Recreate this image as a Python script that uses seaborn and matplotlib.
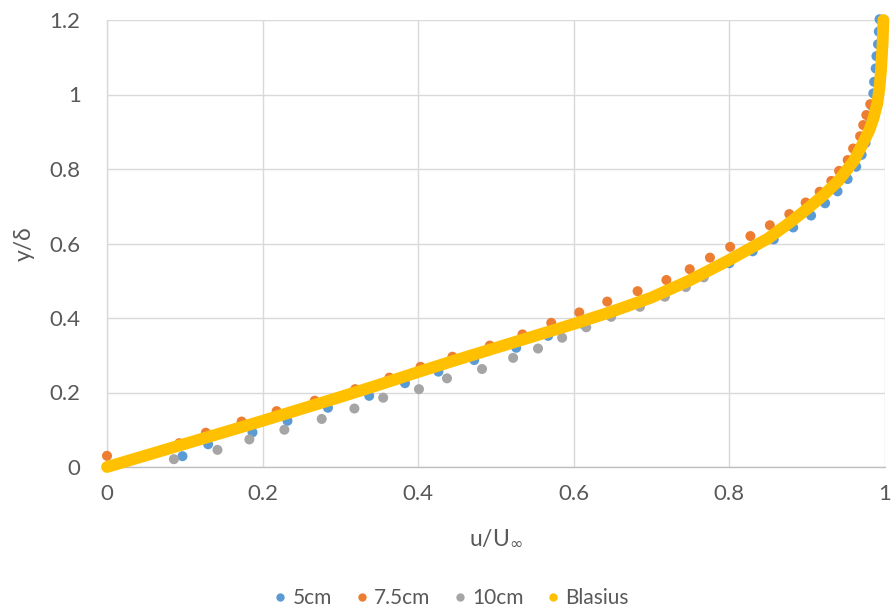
import matplotlib
matplotlib.use("Agg")
import matplotlib.pyplot as plt
import pandas as pd
import seaborn as sns
from matplotlib.lines import Line2D

# ---- data ----
u_5cm = [0.097, 0.130, 0.187, 0.232, 0.284, 0.337, 0.383, 0.426, 0.472, 0.526,
         0.567, 0.610, 0.650, 0.689, 0.732, 0.767, 0.800, 0.830, 0.857, 0.882,
         0.905, 0.923, 0.939, 0.952, 0.963, 0.970, 0.975, 0.979, 0.981, 0.983,
         0.985, 0.986, 0.988, 0.989, 0.991, 0.992, 0.993]
y_5cm = [0.029, 0.061, 0.093, 0.124, 0.159, 0.191, 0.225, 0.256, 0.287, 0.320,
         0.352, 0.385, 0.417, 0.446, 0.484, 0.514, 0.547, 0.579, 0.611, 0.643,
         0.675, 0.708, 0.740, 0.773, 0.806, 0.838, 0.870, 0.903, 0.935, 0.970,
         1.003, 1.034, 1.070, 1.103, 1.135, 1.169, 1.202]

u_75cm = [0.000, 0.093, 0.127, 0.173, 0.218, 0.267, 0.319, 0.363, 0.403, 0.444,
          0.492, 0.534, 0.571, 0.607, 0.643, 0.682, 0.719, 0.749, 0.775, 0.801,
          0.827, 0.852, 0.877, 0.898, 0.916, 0.931, 0.941, 0.952, 0.959, 0.968,
          0.972, 0.976, 0.981]
y_75cm = [0.030, 0.064, 0.092, 0.122, 0.150, 0.178, 0.209, 0.240, 0.269, 0.296,
          0.326, 0.356, 0.387, 0.415, 0.444, 0.472, 0.502, 0.531, 0.562, 0.591,
          0.620, 0.649, 0.679, 0.710, 0.739, 0.768, 0.795, 0.824, 0.855, 0.888,
          0.918, 0.945, 0.974]

u_10cm = [0.086, 0.142, 0.183, 0.228, 0.276, 0.318, 0.355, 0.401, 0.437, 0.482,
          0.522, 0.554, 0.585, 0.616, 0.648, 0.685, 0.717, 0.744, 0.767]
y_10cm = [0.021, 0.046, 0.074, 0.100, 0.129, 0.157, 0.186, 0.209, 0.238, 0.263,
          0.293, 0.318, 0.347, 0.375, 0.403, 0.430, 0.457, 0.483, 0.509]

u_blasius = [0.0, 0.05, 0.10, 0.15, 0.20, 0.25, 0.30, 0.35, 0.40, 0.45, 0.50,
             0.55, 0.60, 0.65, 0.70, 0.75, 0.80, 0.85, 0.88, 0.90, 0.92, 0.94,
             0.96, 0.97, 0.98, 0.985, 0.990, 0.993, 0.995, 0.997, 0.998]
y_blasius = [0.0, 0.031, 0.062, 0.093, 0.124, 0.156, 0.188, 0.221, 0.255, 0.288,
             0.320, 0.352, 0.384, 0.418, 0.455, 0.502, 0.556, 0.614, 0.660, 0.693,
             0.728, 0.768, 0.822, 0.862, 0.905, 0.935, 0.975, 1.020, 1.070, 1.140,
             1.200]

series_names = ["5cm", "7.5cm", "10cm", "Blasius"]
colors = ["#5B9BD5", "#ED7D31", "#A5A5A5", "#FFC000"]
x_ticks = [0, 0.2, 0.4, 0.6, 0.8, 1.0]
x_tick_labels = ["0", "0.2", "0.4", "0.6", "0.8", "1"]
y_ticks = [0, 0.2, 0.4, 0.6, 0.8, 1.0, 1.2]
y_tick_labels = ["0", "0.2", "0.4", "0.6", "0.8", "1", "1.2"]

# ---- style ----
sns.set_theme(style="white")
plt.rcParams["font.family"] = ["Lato", "DejaVu Sans"]
text_color = "#595959"
grid_color = "#D9D9D9"

fig = plt.figure(figsize=(8.92, 6.12), dpi=100)
ax = fig.add_axes([107 / 892, 1 - 467 / 612, 778 / 892, 447 / 612])

df = pd.concat([
    pd.DataFrame({"u": u_5cm, "y": y_5cm, "series": series_names[0]}),
    pd.DataFrame({"u": u_75cm, "y": y_75cm, "series": series_names[1]}),
    pd.DataFrame({"u": u_10cm, "y": y_10cm, "series": series_names[2]}),
], ignore_index=True)

sns.scatterplot(data=df, x="u", y="y", hue="series",
                palette=dict(zip(series_names[:3], colors[:3])),
                s=52, linewidth=0, legend=False, ax=ax,
                clip_on=False, zorder=3)

sns.lineplot(x=u_blasius, y=y_blasius, sort=False, color=colors[3],
             linewidth=8.5, ax=ax, zorder=4, clip_on=False,
             solid_capstyle="round", solid_joinstyle="round")

ax.set_xlim(0, 1)
ax.set_ylim(0, 1.2)
ax.set_xticks(x_ticks)
ax.set_xticklabels(x_tick_labels)
ax.set_yticks(y_ticks)
ax.set_yticklabels(y_tick_labels)
ax.grid(True, color=grid_color, linewidth=1)
ax.set_axisbelow(True)
for side in ["top", "right"]:
    ax.spines[side].set_visible(False)
ax.spines["left"].set_color(grid_color)
ax.spines["bottom"].set_color("#BFBFBF")
ax.spines["left"].set_linewidth(1)
ax.spines["bottom"].set_linewidth(1)
ax.tick_params(axis="both", length=0, labelsize=16, labelcolor=text_color)
ax.tick_params(axis="y", pad=19)
ax.tick_params(axis="x", pad=12)

ax.set_xlabel("u/U$_{\\infty}$", fontsize=16.5, color=text_color)
ax.set_ylabel("y/δ", fontsize=16.5, color=text_color)
ax.xaxis.set_label_coords(0.5, -0.135)
ax.yaxis.set_label_coords(-0.093, 0.5)

handles = [Line2D([0], [0], marker="o", linestyle="none", markersize=6,
                  markerfacecolor=c, markeredgewidth=0) for c in colors]
leg = fig.legend(handles, series_names, loc="center",
                 bbox_to_anchor=(452 / 892, 1 - 598 / 612), ncol=4,
                 frameon=False, fontsize=15, handlelength=0.5,
                 handletextpad=0.35, columnspacing=1.15)
for t in leg.get_texts():
    t.set_color(text_color)

fig.savefig("out.png", dpi=100)
